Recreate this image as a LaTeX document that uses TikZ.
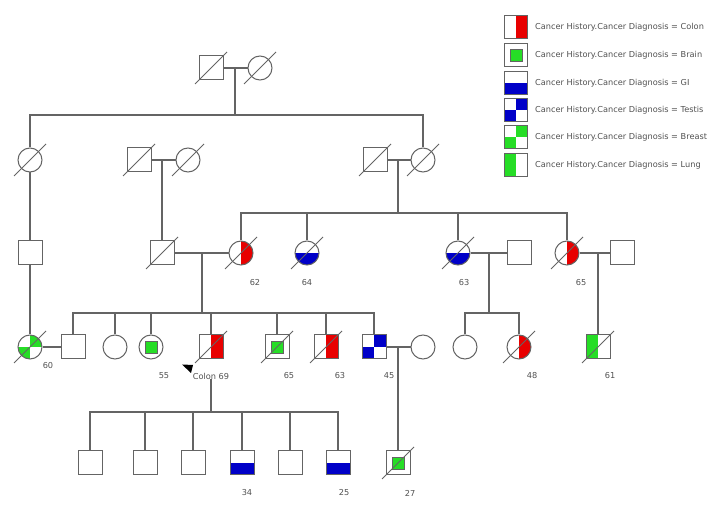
\documentclass[tikz,border=0pt]{standalone}
\usepackage{fontspec}
\setmainfont{DejaVu Sans}
\usetikzlibrary{positioning}
\definecolor{pgray}{HTML}{646464}
\definecolor{pred}{HTML}{E80000}
\definecolor{pblue}{HTML}{0000C8}
\definecolor{pgreen}{HTML}{26DD26}
\definecolor{ptext}{HTML}{505050}

\tikzset{
 person/.style={draw=pgray, line width=1pt, fill=white, inner sep=0pt, minimum size=24pt},
 male/.style={person, rectangle},
 female/.style={person, circle},
 colon/.style={path picture={\fill[pred] (path picture bounding box.north) rectangle (path picture bounding box.south east);}},
 lung/.style={path picture={\fill[pgreen] (path picture bounding box.north west) rectangle (path picture bounding box.south);}},
 gi/.style={path picture={\fill[pblue] (path picture bounding box.west) rectangle (path picture bounding box.south east);}},
 testis/.style={path picture={
   \fill[pblue] (path picture bounding box.center) rectangle (path picture bounding box.north east);
   \fill[pblue] (path picture bounding box.center) rectangle (path picture bounding box.south west);}},
 breast/.style={path picture={
   \fill[pgreen] (path picture bounding box.center) rectangle (path picture bounding box.north east);
   \fill[pgreen] (path picture bounding box.center) rectangle (path picture bounding box.south west);}},
 brain/.style={path picture={
   \draw[pgray, fill=pgreen, line width=0.6pt] (path picture bounding box.center) ++(-6pt,-6pt) rectangle ++(12pt,12pt);}},
 line/.style={draw=pgray, line width=1.1pt},
 marry2/.style={draw=pgray, line width=2.2pt},
 slash/.style={draw=pgray, line width=0.8pt},
 age/.style={text=ptext, inner sep=0pt, font=\fontsize{8.2}{9}\selectfont},
 legtext/.style={text=ptext, inner sep=0pt, font=\fontsize{8.2}{9}\selectfont},
}

\begin{document}
\begin{tikzpicture}[x=1pt, y=-1pt]
 \useasboundingbox (0,0) rectangle (716,505);

 % legend
 \node[male, minimum size=23pt, colon]  (lg1) at (516,27) {};
 \node[male, minimum size=23pt, brain]  (lg2) at (516,55) {};
 \node[male, minimum size=23pt, gi]     (lg3) at (516,83) {};
 \node[male, minimum size=23pt, testis] (lg4) at (516,110) {};
 \node[male, minimum size=23pt, breast] (lg5) at (516,137) {};
 \node[male, minimum size=23pt, lung]   (lg6) at (516,165) {};
 \node[legtext, right=7pt of lg1] (lt1) {Cancer History.Cancer Diagnosis = Colon};
 \node[legtext, right=7pt of lg2] (lt2) {Cancer History.Cancer Diagnosis = Brain};
 \node[legtext, right=7pt of lg3] (lt3) {Cancer History.Cancer Diagnosis = GI};
 \node[legtext, right=7pt of lg4] (lt4) {Cancer History.Cancer Diagnosis = Testis};
 \node[legtext, right=7pt of lg5] (lt5) {Cancer History.Cancer Diagnosis = Breast};
 \node[legtext, right=7pt of lg6] (lt6) {Cancer History.Cancer Diagnosis = Lung};

 % generation I
 \node[male]   (gf) at (211,68) {};
 \node[female] (gm) at (260,68) {};
 \coordinate (m1) at (235,68);
 \coordinate (s1) at (235,115);

 % generation II
 \node[female] (w2a) at (30,160) {};
 \node[male]   (h2b) at (139,160) {};
 \node[female] (w2b) at (188,160) {};
 \node[male]   (h2c) at (375,160) {};
 \node[female] (w2c) at (423,160) {};
 \coordinate (m2b) at (162,160);
 \coordinate (m2c) at (398,160);
 \coordinate (s3) at (398,213);

 % generation III
 \node[male]          (s3a) at (30,253) {};
 \node[male]          (s3b) at (162,253) {};
 \node[female, colon] (w3b) at (241,253) {};
 \node[female, gi]    (w3c) at (307,253) {};
 \node[female, gi]    (w3d) at (458,253) {};
 \node[male]          (h3d) at (519,253) {};
 \node[female, colon] (w3e) at (567,253) {};
 \node[male]          (h3e) at (622,253) {};
 \coordinate (m3b) at (202,253);
 \coordinate (m3d) at (489,253);
 \coordinate (m3e) at (598,253);
 \coordinate (s4) at (202,313);
 \coordinate (s4d) at (489,313);
 \node[age] (a62) at (255,283) {62};
 \node[age] (a64) at (307,283) {64};
 \node[age] (a63) at (464,283) {63};
 \node[age] (a65) at (581,283) {65};

 % generation IV
 \node[female, breast] (w4a) at (30,347) {};
 \node[male]           (h4a) at (73,347) {};
 \node[female]         (f4b) at (115,347) {};
 \node[female, brain]  (f4c) at (151,347) {};
 \node[male, colon]    (p)   at (211,347) {};
 \node[male, brain]    (h4e) at (277,347) {};
 \node[male, colon]    (h4f) at (326,347) {};
 \node[male, testis]   (h4g) at (374,347) {};
 \node[female]         (f4h) at (423,347) {};
 \node[female]         (f4i) at (465,347) {};
 \node[female, colon]  (f4j) at (519,347) {};
 \node[male, lung]     (h4k) at (598,347) {};
 \coordinate (m4g) at (398,347);
 \node[age] (a60) at (48,366) {60};
 \node[age] (a55) at (164,376) {55};
 \node[age] (lp)  at (211,376) {Colon 69};
 \node[age] (a65b) at (289,376) {65};
 \node[age] (a63b) at (340,376) {63};
 \node[age] (a45) at (389,376) {45};
 \node[age] (a48) at (532,376) {48};
 \node[age] (a61) at (610,376) {61};
 \fill[black] (182,364.5) -- (193,365) -- (191,373) -- cycle;

 % generation V
 \node[male]        (g5a) at (90,463) {};
 \node[male]        (g5b) at (145,463) {};
 \node[male]        (g5c) at (193,463) {};
 \node[male, gi]    (g5d) at (242,463) {};
 \node[male]        (g5e) at (290,463) {};
 \node[male, gi]    (g5f) at (338,463) {};
 \node[male, brain] (h5g) at (398,463) {};
 \coordinate (s5) at (211,412);
 \node[age] (a34) at (247,493) {34};
 \node[age] (a25) at (344,493) {25};
 \node[age] (a27) at (410,493) {27};

 % marriages and lines of descent
 \draw[line] (gf) -- (gm);
 \draw[line] (m1) -- (s1);
 \draw[line] (w2a) |- (s1) -| (w2c);
 \draw[line] (h2b) -- (w2b);
 \draw[line] (m2b) -- (s3b);
 \draw[line] (h2c) -- (w2c);
 \draw[line] (m2c) -- (s3);
 \draw[line] (w3b) |- (s3) -| (w3e);
 \draw[line] (w3c) -- (w3c |- s3);
 \draw[line] (w3d) -- (w3d |- s3);
 \draw[line] (w2a) -- (s3a);
 \draw[line] (s3a) -- (w4a);
 \draw[line] (s3b) -- (w3b);
 \draw[line] (m3b) -- (s4);
 \draw[line] (h4a) |- (s4) -| (h4g);
 \foreach \c in {f4b,f4c,p,h4e,h4f}
  \draw[line] (\c) -- (\c |- s4);
 \draw[line] (w3d) -- (h3d);
 \draw[line] (m3d) -- (s4d);
 \draw[line] (f4i) |- (s4d) -| (f4j);
 \draw[line] (w3e) -- (h3e);
 \draw[line] (m3e) -- (h4k);
 \draw[marry2] (w4a.east) -- (h4a.west);
 \draw[marry2] (h4g.east) -- (f4h.west);
 \draw[line] (m4g) -- (h5g);
 \draw[line] (lp) -- (s5);
 \draw[line] (g5a) |- (s5) -| (g5f);
 \foreach \c in {g5b,g5c,g5d,g5e}
  \draw[line] (\c) -- (\c |- s5);

 % deceased
 \foreach \n in {gf,gm,w2a,h2b,w2b,h2c,w2c,s3b,w3b,w3c,w3d,w3e,w4a,p,h4e,h4f,f4j,h4k,h5g}
  \draw[slash] (\n.center) ++(-16pt,-16pt) -- ++(32pt,32pt);
\end{tikzpicture}
\end{document}
